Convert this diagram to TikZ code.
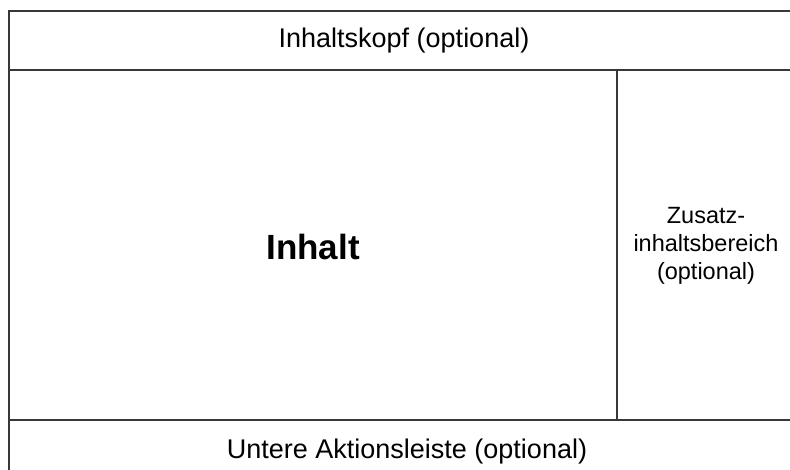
\documentclass[tikz,border=0pt]{standalone}
\usepackage{fontspec}
\setmainfont{Liberation Sans}
\begin{document}
\begin{tikzpicture}[x=1pt,y=-1pt,
  frame/.style={draw=black!78,line width=2.6pt},
  lbl/.style={inner sep=0pt,align=center,font=\fontsize{27}{32}\selectfont},
  big/.style={inner sep=0pt,font=\fontsize{35}{40}\selectfont\bfseries},
  side/.style={inner sep=0pt,align=center,font=\fontsize{23.5}{28}\selectfont}]
\useasboundingbox (0,0) rectangle (790,470);
\clip (0,0) rectangle (790,470);
\draw[frame] (9,11) rectangle (800,484);
\draw[frame] (9,70) -- (800,70);
\draw[frame] (9,420) -- (800,420);
\draw[frame] (617,70) -- (617,420);
\node[lbl] (kopf) at (404,41) {Inhaltskopf (optional)};
\node[big] (inhalt) at (313,247) {Inhalt};
\node[side] (zusatz) at (706,246) {Zusatz-\\inhaltsbereich\\(optional)};
\node[lbl] (leiste) at (407,452) {Untere Aktionsleiste (optional)};
\end{tikzpicture}
\end{document}
